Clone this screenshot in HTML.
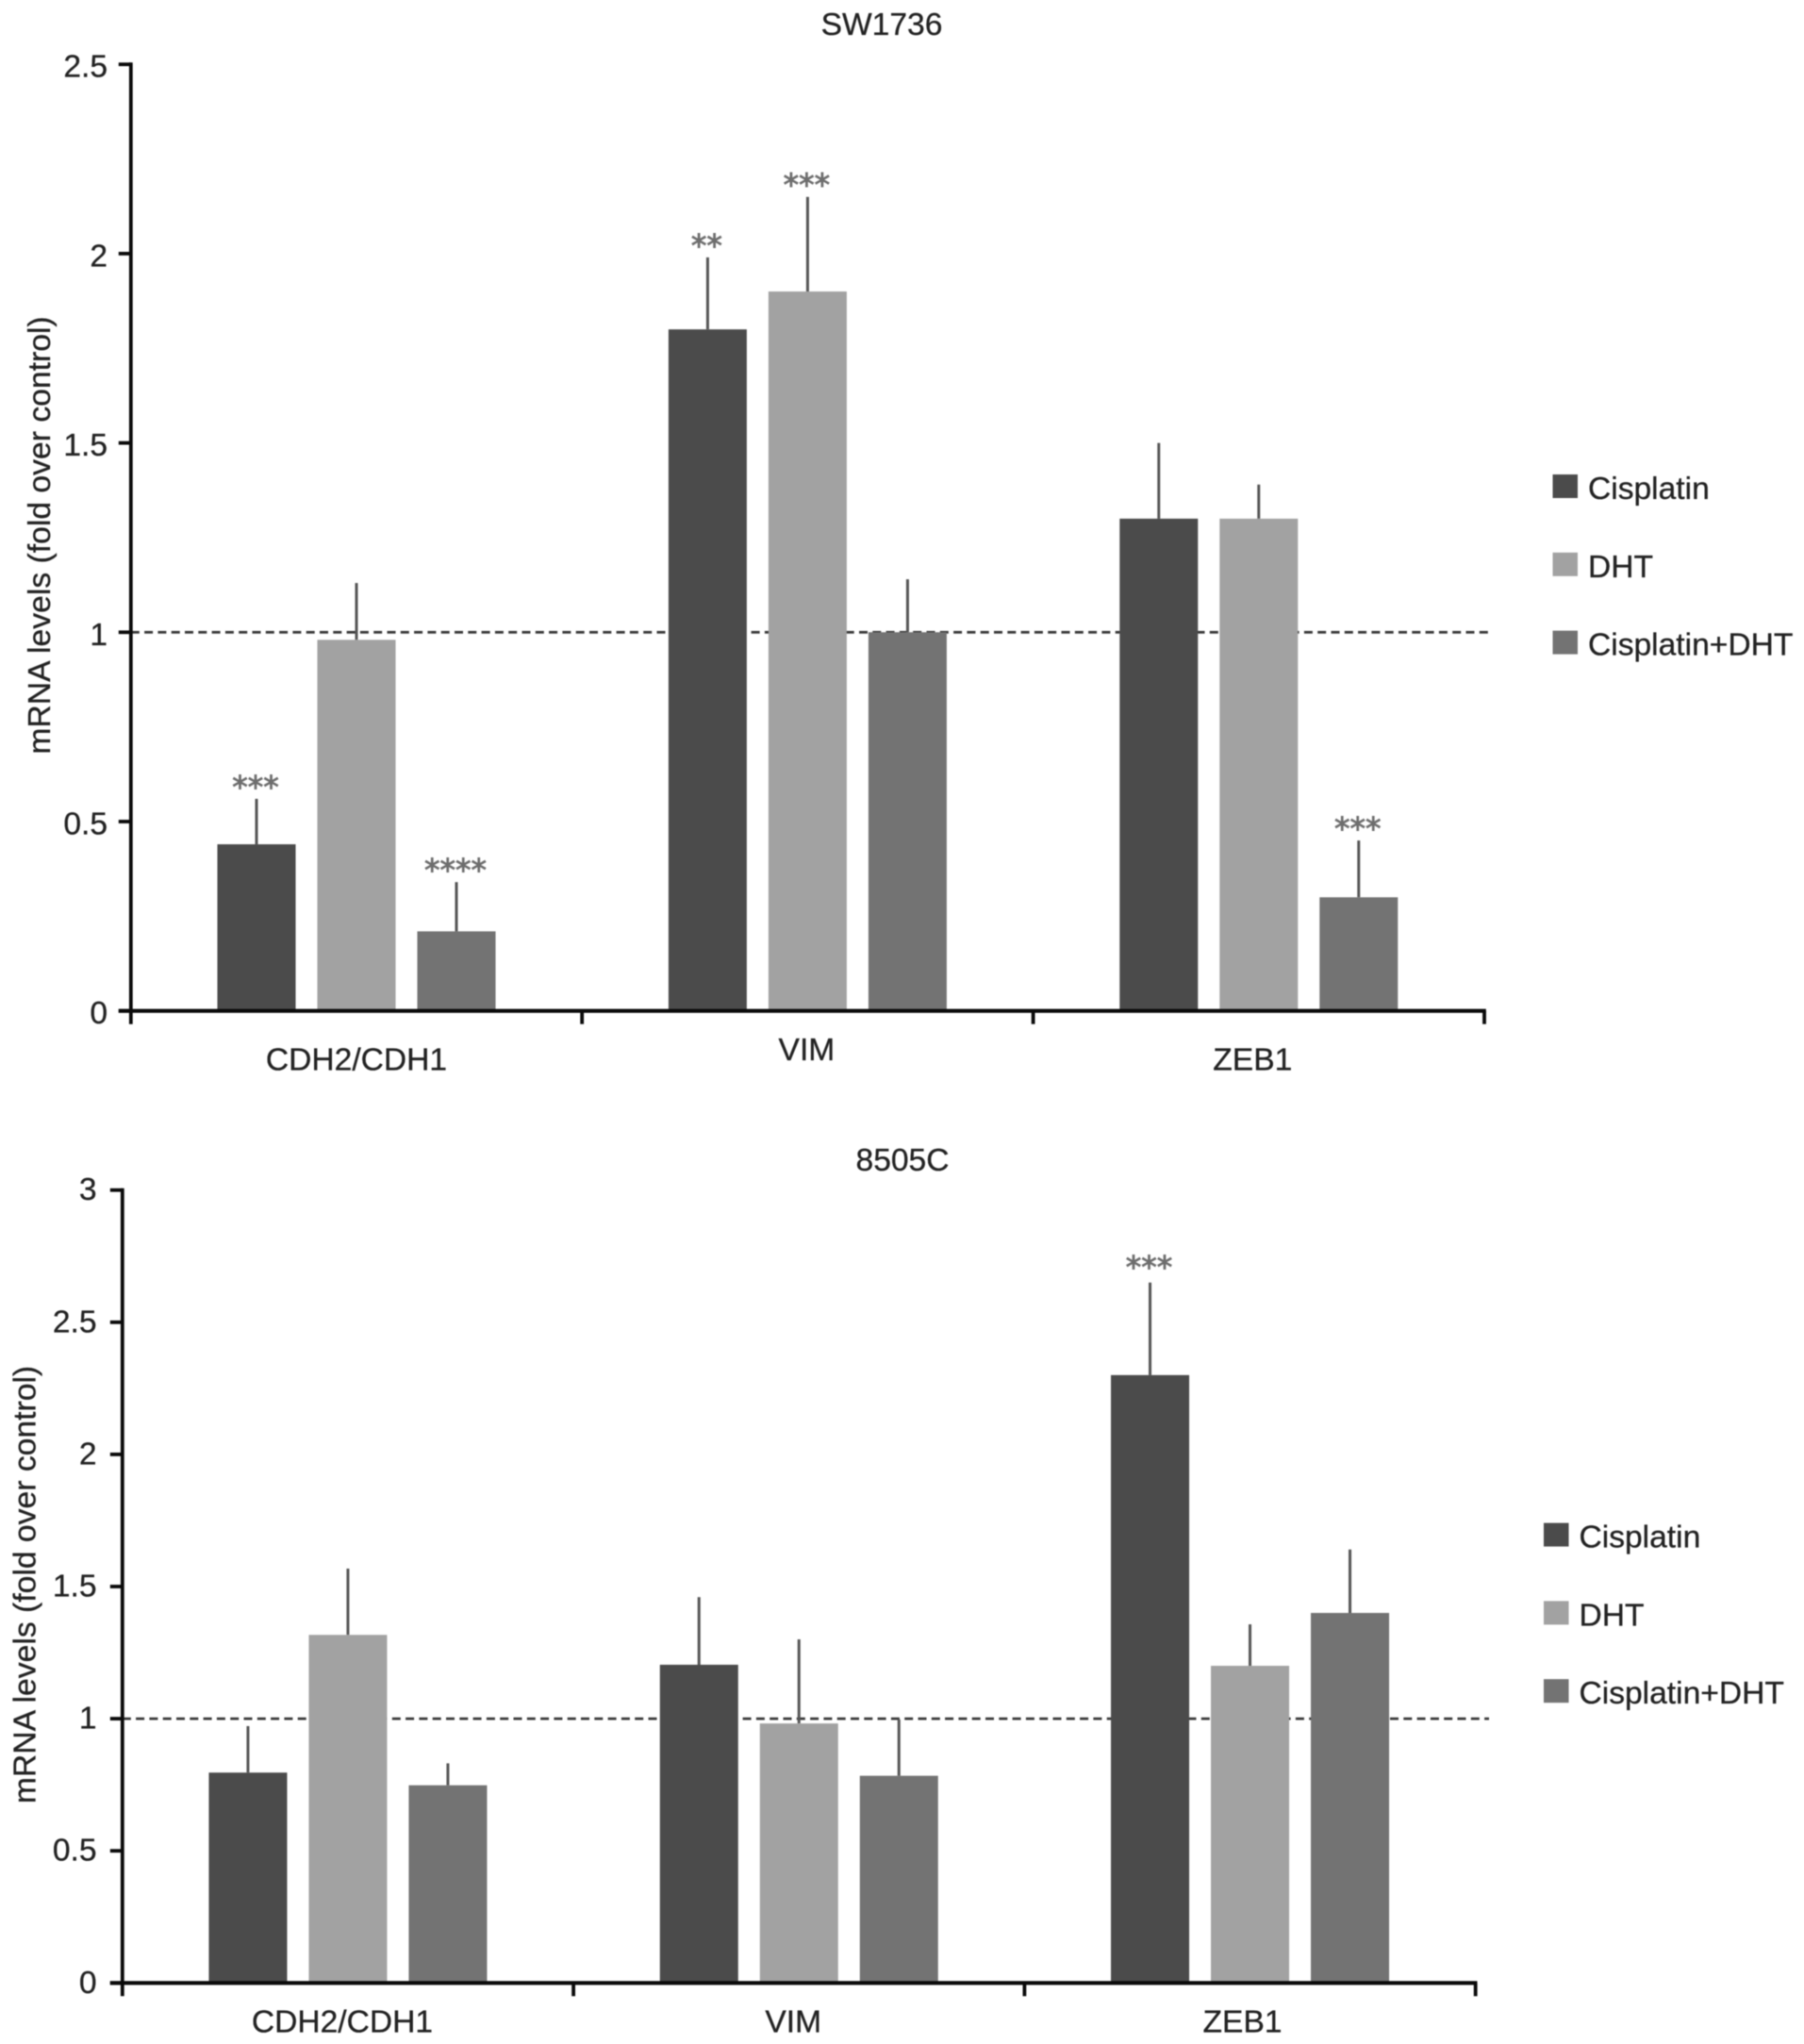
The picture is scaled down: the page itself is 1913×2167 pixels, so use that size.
<!DOCTYPE html>
<html lang="en">
<head>
<meta charset="utf-8">
<title>mRNA levels in SW1736 and 8505C</title>
<style>
html,body{margin:0;padding:0;background:#fff;}
body{width:1913px;height:2167px;overflow:hidden;}
svg{display:block;filter:blur(0.5px);}
text{font-family:"Liberation Sans",Arial,sans-serif;fill:#222222;stroke:#222222;stroke-width:0.3px;}
</style>
</head>
<body>
<svg id="figure" xmlns="http://www.w3.org/2000/svg" width="1913" height="2167" viewBox="0 0 1913 2167">
<rect x="0" y="0" width="1913" height="2167" fill="#ffffff"/>
<g id="panel-a">
<text x="935" y="37" font-size="33.6" text-anchor="middle">SW1736</text>
<text font-size="33.7" text-anchor="middle" transform="translate(53,567.5) rotate(-90)">mRNA levels (fold over control)</text>
</g>
<g id="panel-b">
<text x="957" y="1241" font-size="33.6" text-anchor="middle">8505C</text>
<text font-size="33.7" text-anchor="middle" transform="translate(37.5,1680) rotate(-90)">mRNA levels (fold over control)</text>
</g>
</svg>
<script>
// ---- data ----
const categories = ['CDH2/CDH1', 'VIM', 'ZEB1'];
const seriesNames = ['Cisplatin', 'DHT', 'Cisplatin+DHT'];

const sw1736Ticks = [0, 0.5, 1, 1.5, 2, 2.5];
const sw1736Cisplatin = [0.44, 1.80, 1.30];
const sw1736Dht = [0.98, 1.90, 1.30];
const sw1736Combo = [0.21, 1.00, 0.30];
const sw1736CisplatinErr = [0.12, 0.19, 0.20];
const sw1736DhtErr = [0.15, 0.25, 0.09];
const sw1736ComboErr = [0.13, 0.14, 0.15];
const sw1736CisplatinSig = ['***', '**', ''];
const sw1736DhtSig = ['', '***', ''];
const sw1736ComboSig = ['****', '', '***'];

const c8505Ticks = [0, 0.5, 1, 1.5, 2, 2.5, 3];
const c8505Cisplatin = [0.796, 1.204, 2.30];
const c8505Dht = [1.317, 0.982, 1.20];
const c8505Combo = [0.748, 0.784, 1.40];
const c8505CisplatinErr = [0.176, 0.256, 0.35];
const c8505DhtErr = [0.251, 0.318, 0.157];
const c8505ComboErr = [0.083, 0.213, 0.24];
const c8505CisplatinSig = ['', '', '***'];
const c8505DhtSig = ['', '', ''];
const c8505ComboSig = ['', '', ''];

const referenceLevel = 1;

// ---- styling and layout ----
const seriesColors = ['#4b4b4b', '#a2a2a2', '#737373'];
const NS = 'http://www.w3.org/2000/svg';
const BAR_WIDTH = 83;
const BAR_PITCH = 106;
const FONT_SIZE = 33.6;

function mk(parent, tag, attrs, txt) {
  const el = document.createElementNS(NS, tag);
  for (const k in attrs) el.setAttribute(k, attrs[k]);
  if (txt !== undefined) el.textContent = txt;
  parent.appendChild(el);
  return el;
}

function drawPanel(cfg) {
  const g = cfg.group;
  const y = v => cfg.y0 - v * cfg.unit;
  const groupW = cfg.groupW;
  const cx = i => cfg.x0 + groupW * (i + 0.5);
  const xEnd = cfg.x0 + groupW * categories.length;

  // reference line (behind bars)
  const ref = mk(g, 'line', {x1: cfg.x0, x2: cfg.dashEnd, y1: y(referenceLevel), y2: y(referenceLevel), stroke: '#3a3a3a', 'stroke-width': 2.8, 'stroke-dasharray': '9 5.3'});
  
  

  // bars, error bars, significance marks
  cfg.values.forEach((vals, s) => {
    vals.forEach((v, i) => {
      const bx = cx(i) + (s - 1) * BAR_PITCH;
      const err = cfg.errs[s][i];
      const line = mk(g, 'line', {x1: bx, x2: bx, y1: y(v), y2: y(v + err), stroke: '#555555', 'stroke-width': 3});
      
      

      const bar = mk(g, 'rect', {x: bx - BAR_WIDTH / 2, y: y(v), width: BAR_WIDTH, height: cfg.y0 - y(v), fill: seriesColors[s]});
      
      

      const sig = cfg.sigs[s][i];
      if (sig) {
        const star = mk(g, 'text', {x: bx - 1, y: y(v + err) - cfg.starGap, 'font-size': 33, 'text-anchor': 'middle'}, sig);
        
        
        star.style.fontFamily = '"DejaVu Sans",sans-serif';
        star.style.fill = '#6e6e6e';
        star.style.stroke = '#6e6e6e';
        star.style.strokeWidth = '0.9px';
      }
    });
  });

  // y axis line
  const yAxis = mk(g, 'line', {x1: cfg.x0, x2: cfg.x0, y1: y(cfg.ticks[cfg.ticks.length - 1]) - 2, y2: cfg.y0 + 14, stroke: '#0a0a0a', 'stroke-width': 3.8});
  
  

  // x axis line
  const xAxis = mk(g, 'line', {x1: cfg.x0 - 13, x2: xEnd + 1.8, y1: cfg.y0, y2: cfg.y0, stroke: '#0a0a0a', 'stroke-width': 4.2});
  
  

  // y ticks + labels
  cfg.ticks.forEach(t => {
    const tick = mk(g, 'line', {x1: cfg.x0 - 13, x2: cfg.x0, y1: y(t), y2: y(t), stroke: '#0a0a0a', 'stroke-width': 3.8});
    
    

    const lab = mk(g, 'text', {x: cfg.tickLabelX, y: y(t) + cfg.tickLabelDy, 'font-size': FONT_SIZE, 'text-anchor': 'end'}, String(t));
    
    
  });

  // x ticks
  for (let i = 1; i <= categories.length; i++) {
    const xt = mk(g, 'line', {x1: cfg.x0 + groupW * i, x2: cfg.x0 + groupW * i, y1: cfg.y0, y2: cfg.y0 + 14, stroke: '#0a0a0a', 'stroke-width': 3.8});
    
    
  }

  // category labels
  categories.forEach((c, i) => {
    const lab = mk(g, 'text', {x: cx(i) + cfg.catDx[i], y: cfg.catBaseline[i], 'font-size': FONT_SIZE, 'text-anchor': 'middle'}, c);
    
    
  });

  // legend
  seriesNames.forEach((n, s) => {
    const top = cfg.legendY + s * 82.8;
    const sw = mk(g, 'rect', {x: cfg.legendX, y: top, width: 26.5, height: 25, fill: seriesColors[s]});
    
    

    const lab = mk(g, 'text', {x: cfg.legendTextX, y: top + 26, 'font-size': FONT_SIZE}, n);
    
    
  });
}

drawPanel({
  group: document.getElementById('panel-a'),
  x0: 138.8, y0: 1071.7, unit: 401.4, groupW: 478.4, dashEnd: 1582,
  ticks: sw1736Ticks,
  values: [sw1736Cisplatin, sw1736Dht, sw1736Combo],
  errs: [sw1736CisplatinErr, sw1736DhtErr, sw1736ComboErr],
  sigs: [sw1736CisplatinSig, sw1736DhtSig, sw1736ComboSig],
  starGap: 1, tickLabelX: 114, tickLabelDy: 13.5,
  catDx: [0, -1, -6.5], catBaseline: [1134.5, 1124, 1134.5],
  legendX: 1646.5, legendY: 503, legendTextX: 1684
});

drawPanel({
  group: document.getElementById('panel-b'),
  x0: 129.8, y0: 2102.3, unit: 280.2, groupW: 478.3, dashEnd: 1579,
  ticks: c8505Ticks,
  values: [c8505Cisplatin, c8505Dht, c8505Combo],
  errs: [c8505CisplatinErr, c8505DhtErr, c8505ComboErr],
  sigs: [c8505CisplatinSig, c8505DhtSig, c8505ComboSig],
  starGap: 5, tickLabelX: 102.5, tickLabelDy: 10.5,
  catDx: [-6, -6, -8], catBaseline: [2154.5, 2154.5, 2154.5],
  legendX: 1637, legendY: 1614.6, legendTextX: 1674.5
});
</script>
</body>
</html>
